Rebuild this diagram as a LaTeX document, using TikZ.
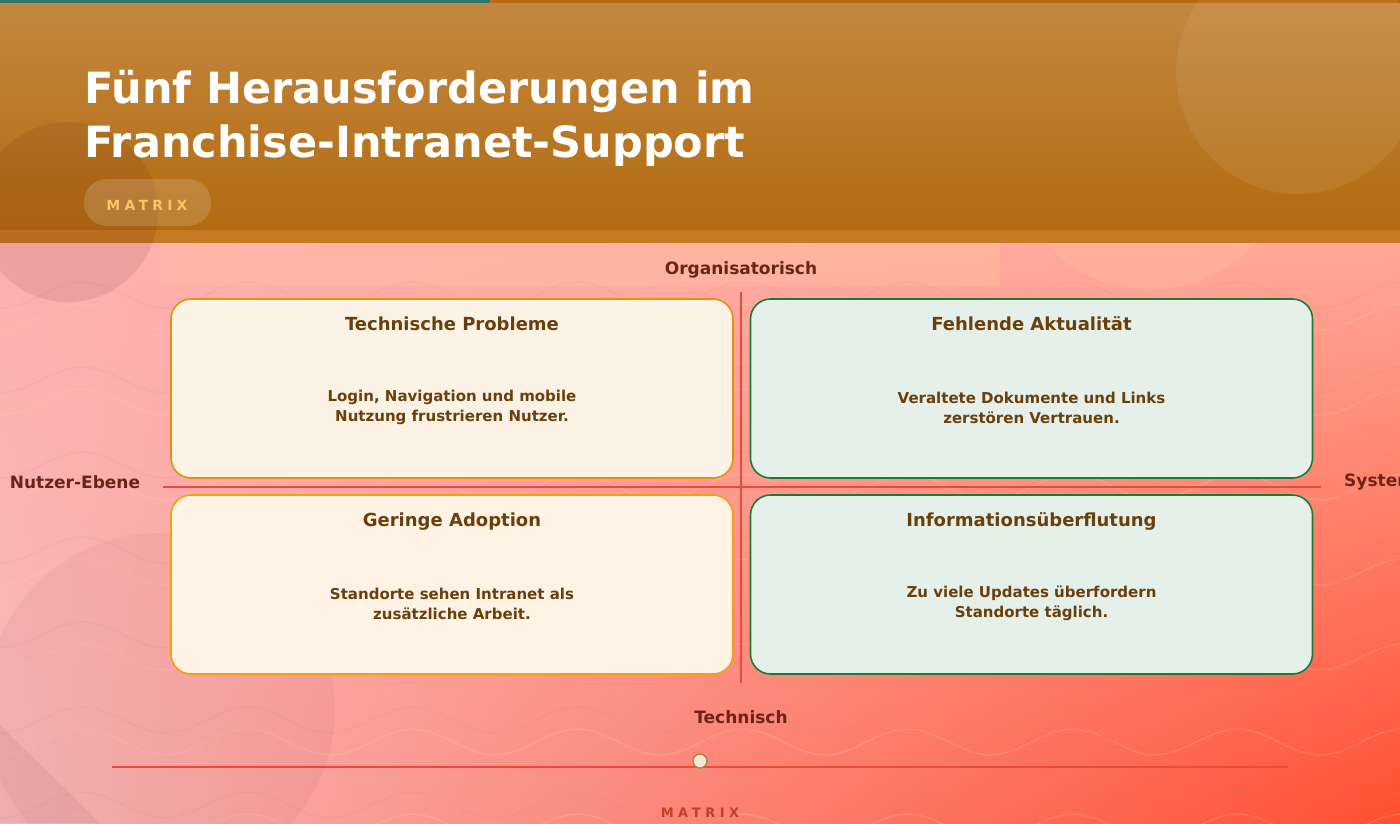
\documentclass[tikz,border=0pt]{standalone}
\usepackage{fontspec}
\setmainfont{DejaVu Sans}
\usetikzlibrary{shapes.geometric,shadings}
\definecolor{bgUL}{HTML}{FFB0B0}
\definecolor{bgUR}{HTML}{FFA898}
\definecolor{bgLL}{HTML}{F7B8B8}
\definecolor{bgLR}{HTML}{FF4E30}
\definecolor{peach}{HTML}{FFC4A0}
\definecolor{hdTop}{HTML}{C4873F}
\definecolor{hdBot}{HTML}{B26B10}
\definecolor{hdStrip}{HTML}{C47A20}
\definecolor{hdLine}{HTML}{B86A10}
\definecolor{teal}{HTML}{2F7773}
\definecolor{axisred}{HTML}{E84A3C}
\definecolor{txtbrown}{HTML}{6B3F0A}
\definecolor{axtxt}{HTML}{6B2418}
\definecolor{orangeB}{HTML}{E8900C}
\definecolor{orangeC}{HTML}{F5A00A}
\definecolor{fillO}{HTML}{FDF2E6}
\definecolor{fillO2}{HTML}{FFF3E6}
\definecolor{greenB}{HTML}{1A7A3A}
\definecolor{fillG}{HTML}{E6F0EA}
\definecolor{badgetxt}{HTML}{FFC462}
\definecolor{matred}{HTML}{C0402A}
\definecolor{knobfill}{HTML}{F5E6D6}
\definecolor{knobdraw}{HTML}{9A8A30}
\definecolor{wavegrey}{HTML}{A09090}
\definecolor{wavepeach}{HTML}{FFD0B0}
\tikzset{
  quad/.style={rounded corners=20pt, minimum width=562pt, minimum height=179pt, line width=1.6pt, inner sep=0pt},
  qtitle/.style={font=\fontsize{18}{22}\selectfont\bfseries, text=txtbrown, anchor=base, inner sep=0pt},
  qbody/.style={font=\fontsize{15}{20}\selectfont\bfseries, text=txtbrown, align=center},
  axlabel/.style={font=\fontsize{17}{20}\selectfont\bfseries, text=axtxt},
  axisline/.style={draw=axisred, line width=1.8pt},
  waveA/.style={draw=wavegrey, opacity=0.1, line width=1.4pt},
  waveB/.style={draw=wavepeach, opacity=0.22, line width=1.4pt},
  titletxt/.style={anchor=base west, text=white, font=\fontsize{43}{54}\selectfont\bfseries, inner sep=0pt},
}
\begin{document}
\begin{tikzpicture}[x=1pt,y=-1pt]
\useasboundingbox (0,0) rectangle (1400,823);
\begin{scope}
\clip (0,0) rectangle (1400,823);
% body background
\shade[upper left=bgUL, upper right=bgUR, lower left=bgLL, lower right=bgLR] (0,243) rectangle (1400,823);
\fill[peach, opacity=0.35] (160,243) rectangle (1000,286);
\fill[peach, opacity=0.3] (1150,150) circle (140);
% waves
\begin{scope}
\clip (0,243) rectangle (1400,823);
\foreach \yy in {295,380,465,550,635,720,805}{
  \draw[waveA] plot[domain=0:1400, samples=140] (\x, {\yy + 13*sin(\x*2.1818 + 90)});
  \draw[waveB] plot[domain=0:1400, samples=140] (\x, {\yy + 22 + 13*sin(\x*2.1818 + 90)});
}
\fill[black!40!purple, opacity=0.04] (160,708) circle (175);
\fill[black!50!purple, opacity=0.06] (0,725) -- (100,823) -- (0,823) -- cycle;
\end{scope}
% header
\shade[top color=hdTop, bottom color=hdBot] (0,0) rectangle (1400,230);
\fill[hdStrip] (0,230) rectangle (1400,243);
\fill[hdLine] (0,0) rectangle (1400,3);
\fill[teal] (0,0) rectangle (490,3);
\fill[white, opacity=0.07] (1298,72) circle (122);
\fill[black!60!purple, opacity=0.09] (68,212) circle (90);
\end{scope}
% title
\node[titletxt] (title1) at (84,103) {Fünf Herausforderungen im};
\node[titletxt] (title2) at (84,157) {Franchise-Intranet-Support};
% badge
\node[fill=white, fill opacity=0.15, rounded corners=23pt, minimum width=127pt, minimum height=47pt, inner sep=0pt] (badge) at (147.5,202.5) {};
\node[text=badgetxt, font=\fontsize{14}{16}\selectfont\bfseries\addfontfeature{LetterSpace=30}] (badgetext) at (147,205) {MATRIX};
% axes
\coordinate (hl) at (163,487);
\coordinate (hr) at (1321,487);
\coordinate (vt) at (741,292);
\coordinate (vb) at (741,683);
\draw[axisline] (hl) -- (hr);
\draw[axisline] (vt) -- (vb);
% quadrants
\node[quad, draw=orangeB, fill=fillO] (tl) at (452,388.5) {};
\node[quad, draw=greenB, fill=fillG] (tr) at (1031.5,388.5) {};
\node[quad, draw=orangeC, fill=fillO2] (bl) at (452,584.5) {};
\node[quad, draw=greenB, fill=fillG] (br) at (1031.5,584.5) {};
\node[qtitle] (tlt) at (452,330) {Technische Probleme};
\node[qbody] (tlb) at (452,407.5) {Login, Navigation und mobile\\Nutzung frustrieren Nutzer.};
\node[qtitle] (trt) at (1031.5,330) {Fehlende Aktualität};
\node[qbody] (trb) at (1031.5,407.5) {Veraltete Dokumente und Links\\zerstören Vertrauen.};
\node[qtitle] (blt) at (452,526) {Geringe Adoption};
\node[qbody] (blb) at (452,603.5) {Standorte sehen Intranet als\\zusätzliche Arbeit.};
\node[qtitle] (brt) at (1031.5,526) {Informationsüberflutung};
\node[qbody] (brb) at (1031.5,603.5) {Zu viele Updates überfordern\\Standorte täglich.};
% axis labels
\node[axlabel] (top) at (741,270) {Organisatorisch};
\node[axlabel] (bot) at (741,717) {Technisch};
\node[axlabel] (left) at (75,482) {Nutzer-Ebene};
\begin{scope}
\clip (0,0) rectangle (1400,823);
\node[axlabel, anchor=west, inner sep=0pt] (right) at (1344,482) {System-Ebene};
\end{scope}
% slider
\coordinate (sl) at (112,767);
\coordinate (sr) at (1288,767);
\draw[draw=axisred, line width=1.5pt] (sl) -- (sr);
\node[circle, fill=knobfill, draw=knobdraw, line width=1.3pt, minimum size=14pt, inner sep=0pt] (knob) at (700,761) {};
\node[text=matred, font=\fontsize{13}{15}\selectfont\bfseries\addfontfeature{LetterSpace=35}] (foot) at (700,813) {MATRIX};
\end{tikzpicture}
\end{document}
